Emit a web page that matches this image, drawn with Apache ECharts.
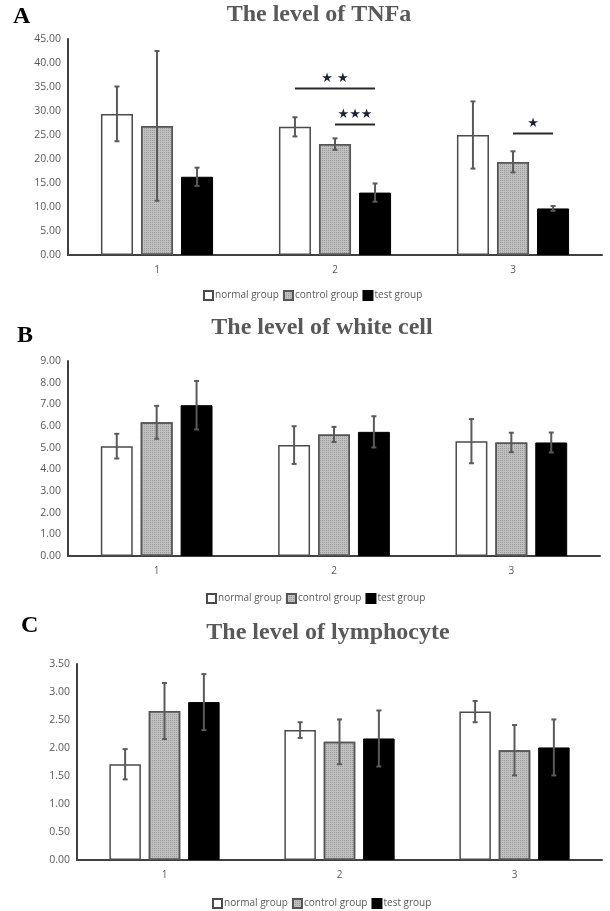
<!DOCTYPE html>
<html>
<head>
<meta charset="utf-8">
<script src="https://cdn.jsdelivr.net/npm/echarts@6/dist/echarts.min.js"></script>
<style>
html,body{margin:0;padding:0;background:#fff;}
#chart{width:610px;height:911px;}
</style>
</head>
<body>
<div id="chart"></div>
<script>
// ---- data ----
const categories = ['1', '2', '3'];
const groupNames = ['normal group', 'control group', 'test group'];

// Panel A: TNFa
const tnfNormal = [29.4, 26.7, 25.0];
const tnfNormalErr = [5.7, 2.0, 7.0];
const tnfControl = [26.9, 23.1, 19.4];
const tnfControlErr = [15.6, 1.2, 2.2];
const tnfTest = [16.3, 13.0, 9.7];
const tnfTestErr = [1.9, 1.9, 0.5];
const tnfTicks = [0, 45, 5];

// Panel B: white cell
const wbcNormal = [5.07, 5.12, 5.30];
const wbcNormalErr = [0.57, 0.87, 1.02];
const wbcControl = [6.17, 5.61, 5.24];
const wbcControlErr = [0.76, 0.35, 0.45];
const wbcTest = [6.96, 5.73, 5.24];
const wbcTestErr = [1.12, 0.72, 0.46];
const wbcTicks = [0, 9, 1];

// Panel C: lymphocyte
const lymNormal = [1.71, 2.32, 2.65];
const lymNormalErr = [0.27, 0.14, 0.19];
const lymControl = [2.66, 2.11, 1.96];
const lymControlErr = [0.5, 0.4, 0.45];
const lymTest = [2.82, 2.17, 2.01];
const lymTestErr = [0.5, 0.5, 0.5];
const lymTicks = [0, 3.5, 0.5];

// significance marks for panel A: category index, from group, to group, line height, label
const sigCat = [1, 1, 2];
const sigFrom = [0, 1, 1];
const sigTo = [2, 2, 2];
const sigLevel = [34.7, 27.2, 25.3];
const sigLabel = ['★ ★', '★★★', '★'];

// ---- styles ----
const GAP_CAT = 0.37, GAP_BAR = 0.25;
const barFrac = (1 - GAP_CAT) / (3 + 2 * GAP_BAR);
const offsets = [-barFrac * (1 + GAP_BAR), 0, barFrac * (1 + GAP_BAR)];
const axisColor = '#404040';
const labelColor = '#595959';
const errColor = '#5a5a5a';

const groupStyles = [
  { color: '#ffffff', borderColor: '#4a4a4a', borderWidth: 1.5 },
  { color: '#c0c0c0', borderColor: '#555555', borderWidth: 1.5,
    decal: { symbol: 'rect', symbolSize: 1, dashArrayX: [1, 1], dashArrayY: [1, 1], color: 'rgba(130,130,130,0.6)', rotation: 0 } },
  { color: '#000000', borderColor: '#000000', borderWidth: 1 }
];

const panels = [
  { means: [tnfNormal, tnfControl, tnfTest], errs: [tnfNormalErr, tnfControlErr, tnfTestErr], ticks: tnfTicks,
    grid: { left: 68, top: 39, width: 534, height: 216 }, legendLeft: 203, legendTop: 290 },
  { means: [wbcNormal, wbcControl, wbcTest], errs: [wbcNormalErr, wbcControlErr, wbcTestErr], ticks: wbcTicks,
    grid: { left: 68, top: 361, width: 532, height: 195 }, legendLeft: 206, legendTop: 593 },
  { means: [lymNormal, lymControl, lymTest], errs: [lymNormalErr, lymControlErr, lymTestErr], ticks: lymTicks,
    grid: { left: 77, top: 664, width: 525, height: 196 }, legendLeft: 212, legendTop: 898 }
];

const grids = [], xAxes = [], yAxes = [], series = [], legends = [];

panels.forEach((p, pi) => {
  grids.push(p.grid);
  xAxes.push({
    type: 'category', gridIndex: pi, data: categories,
    axisLine: { show: true, lineStyle: { color: axisColor, width: 2 } },
    axisTick: { show: false },
    axisLabel: { color: labelColor, fontSize: 10, fontFamily: 'Open Sans', margin: 10 },
    splitLine: { show: false }
  });
  yAxes.push({
    type: 'value', gridIndex: pi, min: p.ticks[0], max: p.ticks[1], interval: p.ticks[2],
    axisLine: { show: true, lineStyle: { color: axisColor, width: 2 } },
    axisTick: { show: false },
    splitLine: { show: false },
    axisLabel: { color: labelColor, fontSize: 10.5, fontFamily: 'Open Sans', margin: 7,
      formatter: v => v.toFixed(2) }
  });
  groupNames.forEach((g, gi) => {
    series.push({
      type: 'bar', name: g, xAxisIndex: pi, yAxisIndex: pi,
      data: p.means[gi],
      barCategoryGap: (GAP_CAT * 100) + '%', barGap: (GAP_BAR * 100) + '%',
      itemStyle: groupStyles[gi],
      emphasis: { disabled: true },
      z: 2
    });
  });
  groupNames.forEach((g, gi) => {
    series.push({
      type: 'custom', name: g + ' error', xAxisIndex: pi, yAxisIndex: pi, z: 5,
      silent: true,
      data: p.means[gi].map((m, ci) => [ci, m, p.errs[gi][ci]]),
      encode: { x: 0, y: 1 },
      renderItem: (params, api) => {
        const ci = api.value(0), m = api.value(1), e = api.value(2);
        const c = api.coord([ci, m]);
        const band = api.size([1, 0])[0];
        const x = c[0] + offsets[gi] * band;
        const yt = api.coord([ci, m + e])[1];
        const yb = api.coord([ci, m - e])[1];
        const st = { stroke: errColor, lineWidth: 2 };
        const cap = 2.5;
        return { type: 'group', children: [
          { type: 'line', shape: { x1: x, y1: yt, x2: x, y2: yb }, style: st },
          { type: 'line', shape: { x1: x - cap, y1: yt, x2: x + cap, y2: yt }, style: st },
          { type: 'line', shape: { x1: x - cap, y1: yb, x2: x + cap, y2: yb }, style: st }
        ] };
      }
    });
  });
  legends.push({
    data: groupNames, left: p.legendLeft, top: p.legendTop, orient: 'horizontal',
    icon: 'rect', itemWidth: 9, itemHeight: 9, itemGap: 4, padding: 0,
    textStyle: { color: labelColor, fontSize: 10, fontFamily: 'Open Sans', padding: [0, 0, 0, -3] },
    selectedMode: false
  });
});

// significance annotations on panel A
series.push({
  type: 'custom', name: 'significance', xAxisIndex: 0, yAxisIndex: 0, z: 6, silent: true,
  data: sigCat.map((c, i) => [c, sigLevel[i], sigFrom[i], sigTo[i], i]),
  encode: { x: 0, y: 1 },
  renderItem: (params, api) => {
    const ci = api.value(0), lv = api.value(1);
    const fg = api.value(2), tg = api.value(3), idx = api.value(4);
    const c = api.coord([ci, lv]);
    const band = api.size([1, 0])[0];
    const x1 = c[0] + offsets[fg] * band, x2 = c[0] + offsets[tg] * band;
    return { type: 'group', children: [
      { type: 'line', shape: { x1: x1, y1: c[1], x2: x2, y2: c[1] }, style: { stroke: '#2a2a2a', lineWidth: 2 } },
      { type: 'text', style: { text: sigLabel[idx], x: (x1 + x2) / 2, y: c[1] - 10, align: 'center', verticalAlign: 'middle',
        fill: '#1c2236', fontSize: 13, fontFamily: 'DejaVu Sans' } }
    ] };
  }
});

const titleStyle = { fontSize: 24, fontWeight: 'bold', fontFamily: 'Liberation Serif', fill: '#595959', align: 'center', verticalAlign: 'middle' };
const letterStyle = { fontSize: 24, fontWeight: 'bold', fontFamily: 'Liberation Serif', fill: '#000', align: 'left', verticalAlign: 'middle' };

const graphics = [
  { type: 'text', x: 319, y: 15, style: Object.assign({ text: 'The level of TNFa' }, titleStyle) },
  { type: 'text', x: 322, y: 328, style: Object.assign({ text: 'The level of white cell' }, titleStyle) },
  { type: 'text', x: 328, y: 633, style: Object.assign({ text: 'The level of lymphocyte' }, titleStyle) },
  { type: 'text', x: 13, y: 17, style: Object.assign({ text: 'A' }, letterStyle) },
  { type: 'text', x: 17, y: 336, style: Object.assign({ text: 'B' }, letterStyle) },
  { type: 'text', x: 21, y: 626, style: Object.assign({ text: 'C' }, letterStyle) }
];

const chart = echarts.init(document.getElementById('chart'), null, { renderer: 'canvas' });
chart.setOption({
  backgroundColor: '#ffffff',
  animation: false,
  grid: grids,
  xAxis: xAxes,
  yAxis: yAxes,
  legend: legends,
  series: series,
  graphic: graphics
});
</script>
</body>
</html>
